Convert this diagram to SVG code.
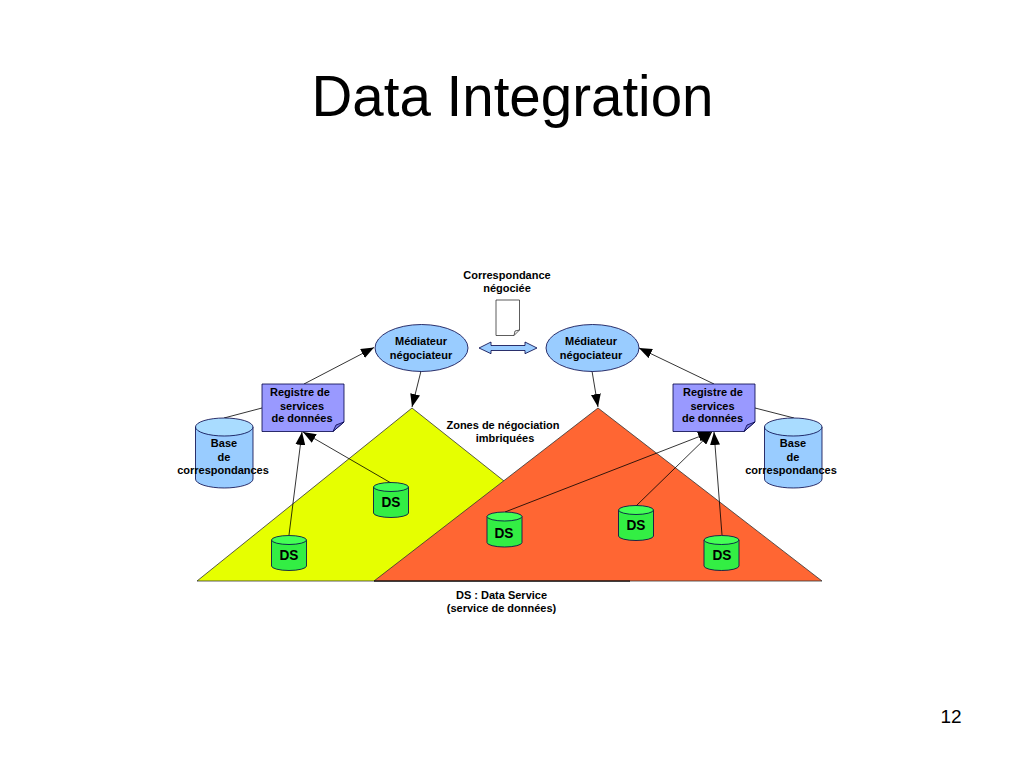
<svg xmlns="http://www.w3.org/2000/svg" width="1024" height="768" viewBox="0 0 1024 768">
<style>
text{font-family:"Liberation Sans",Arial,sans-serif;fill:#000;text-anchor:middle}
.t{font-size:11px;font-weight:bold}
.ds{font-size:15px;font-weight:bold}
.o{stroke:#000045;stroke-width:.8}
.blue{fill:#99ccff}
.lblue{fill:#a9dcff}
.green{fill:#33ee44}
.lgreen{fill:#44ff55}
.reg{fill:#9999ff}
.c{fill:none;stroke:#000;stroke-width:.8}
</style>
<defs>
<marker id="a" markerUnits="userSpaceOnUse" markerWidth="14" markerHeight="10" refX="13" refY="5" orient="auto"><path d="M0 0L13 5L0 10Z" fill="#000"/></marker>
<g id="dsc"><path class="o green" d="M0 4.500V30.500A17.500 4.500 0 0 0 35 30.500V4.500Z"/><ellipse class="o lgreen" cx="17.500" cy="4.500" rx="17.500" ry="4.500"/></g>
<g id="cy"><path class="o blue" d="M0 9V61A28.750 9 0 0 0 57.500 61V9Z"/><ellipse class="o lblue" cx="28.750" cy="9" rx="28.750" ry="9"/></g>
</defs>
<rect width="1024" height="768" fill="#fff"/>
<text id="title" x="512.500" y="116" style="font-size:56.500px">Data Integration</text>
<g id="triangles">
<path id="zone-yellow" d="M412 408L197 581H630Z" fill="#e6ff00" stroke="#333" stroke-width=".8"/>
<path id="zone-orange" d="M598 408L374 581H822Z" fill="#ff6633" stroke="#333" stroke-width=".8"/>
<path d="M374 581H630" stroke="#000" stroke-width="1.200"/>
</g>
<g id="connectors">
<path class="c" d="M304 384L374 347.500" marker-end="url(#a)"/>
<path class="c" d="M421 371L412 407" marker-end="url(#a)"/>
<path class="c" d="M592 371L598 407" marker-end="url(#a)"/>
<path class="c" d="M714 384L639 348" marker-end="url(#a)"/>
<path class="c" d="M224 418L262 408"/>
<path class="c" d="M755 408L794 418"/>
<path class="c" d="M289 535L302 432" marker-end="url(#a)"/>
<path class="c" d="M391 483L303 432" marker-end="url(#a)"/>
<path class="c" d="M505 512L711 432" marker-end="url(#a)"/>
<path class="c" d="M636 506L712 432" marker-end="url(#a)"/>
<path class="c" d="M722 535L714 432" marker-end="url(#a)"/>
</g>
<g id="label-correspondance"><text class="t" x="507" y="279">Correspondance</text><text class="t" x="507" y="292">négociée</text></g>
<g id="doc"><path d="M496 300H519.500V330L514 335.500H496Z" fill="#fff" stroke="#333" stroke-width=".8"/><path d="M514 335.500L515 331L519.500 330" fill="none" stroke="#333" stroke-width=".8"/></g>
<g id="double-arrow"><path class="o blue" d="M479 348L491 342V345.500H525V342L537 348L525 353.700V350.500H491V353.700Z"/></g>
<g id="med-left"><ellipse class="o blue" cx="421.500" cy="348" rx="46.500" ry="23.500"/><text class="t" x="421" y="345">Médiateur</text><text class="t" x="421" y="358.500">négociateur</text></g>
<g id="med-right"><ellipse class="o blue" cx="592.500" cy="348" rx="46.500" ry="23.500"/><text class="t" x="591" y="345">Médiateur</text><text class="t" x="591" y="358.500">négociateur</text></g>
<g id="reg-left"><path class="o reg" d="M262 384H344V422L333 431.500H262Z"/><path d="M333 431.500L336 425L344 422Z" fill="#7777dd" stroke="#000045" stroke-width=".8"/><text class="t" x="300" y="396">Registre de</text><text class="t" x="302" y="409.500">services</text><text class="t" x="302" y="422">de données</text></g>
<g id="reg-right"><path class="o reg" d="M673 384H755V422L744 431.500H673Z"/><path d="M744 431.500L747 425L755 422Z" fill="#7777dd" stroke="#000045" stroke-width=".8"/><text class="t" x="713" y="396">Registre de</text><text class="t" x="712.500" y="409.500">services</text><text class="t" x="712.500" y="422">de données</text></g>
<g id="base-left"><use href="#cy" x="195.500" y="418"/><text class="t" x="224" y="447">Base</text><text class="t" x="224" y="461">de</text><text class="t" x="223" y="474">correspondances</text></g>
<g id="base-right"><use href="#cy" x="764.500" y="418"/><text class="t" x="793" y="447">Base</text><text class="t" x="793" y="461">de</text><text class="t" x="791" y="474">correspondances</text></g>
<g id="ds1"><use href="#dsc" x="271.500" y="535.500"/><text class="ds" x="289" y="560" textLength="19" lengthAdjust="spacingAndGlyphs">DS</text></g>
<g id="ds2"><use href="#dsc" x="373.500" y="482.500"/><text class="ds" x="391" y="507" textLength="19" lengthAdjust="spacingAndGlyphs">DS</text></g>
<g id="ds3"><use href="#dsc" x="487" y="512"/><text class="ds" x="504" y="538" textLength="19" lengthAdjust="spacingAndGlyphs">DS</text></g>
<g id="ds4"><use href="#dsc" x="618.500" y="505.500"/><text class="ds" x="636" y="530" textLength="19" lengthAdjust="spacingAndGlyphs">DS</text></g>
<g id="ds5"><use href="#dsc" x="704" y="535.500"/><text class="ds" x="722" y="560" textLength="19" lengthAdjust="spacingAndGlyphs">DS</text></g>
<g id="label-zones"><text class="t" x="503" y="429">Zones de négociation</text><text class="t" x="505" y="442">imbriquées</text></g>
<g id="label-ds"><text class="t" x="501.500" y="599">DS : Data Service</text><text class="t" x="501.500" y="612">(service de données)</text></g>
<text id="page" x="951" y="723" style="font-size:19px">12</text>
</svg>
